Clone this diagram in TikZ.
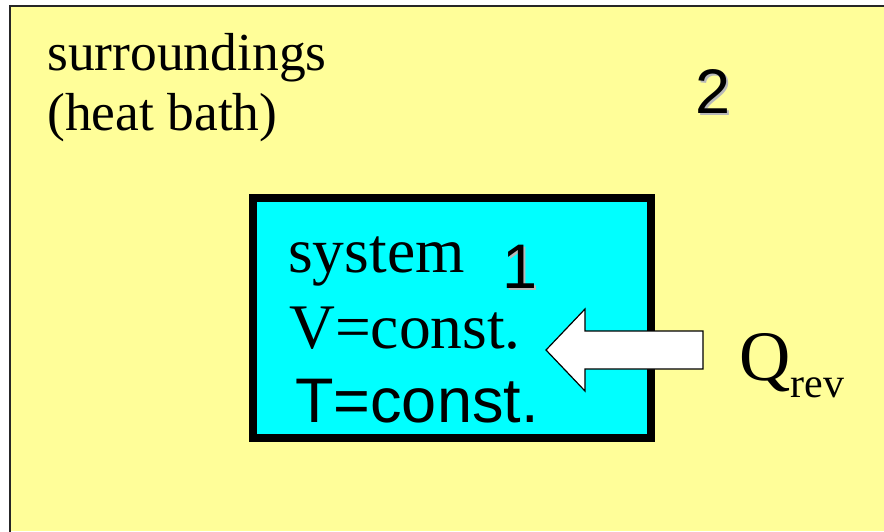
\documentclass[tikz,border=0pt]{standalone}
\usepackage{fontspec}
\setmainfont{Liberation Serif}
\newfontfamily\arialfont{Liberation Sans}
\definecolor{bathyellow}{HTML}{FFFE99}
\definecolor{syscyan}{HTML}{00FFFF}
\definecolor{shadowgray}{HTML}{B8B8B8}
\begin{document}
\begin{tikzpicture}[x=1pt,y=-1pt,
  serif53/.style={inner sep=0pt,anchor=base west,font=\fontsize{53.5}{60}\selectfont},
  serif62/.style={inner sep=0pt,anchor=base west,font=\fontsize{63.5}{70}\selectfont},
  sans62/.style={inner sep=0pt,anchor=base west,font=\arialfont\fontsize{63}{70}\selectfont},
  digitshadow/.style={sans62,text=shadowgray},
  digit/.style={sans62,text=black}]
\useasboundingbox (0,0) rectangle (884,531);
% surroundings (heat bath)
\fill[bathyellow] (10,6) rectangle (884,531);
\draw[line width=2pt,black!85] (9.5,540) -- (9.5,5.5) -- (890,5.5);
% system box
\draw[fill=syscyan,draw=black,line width=8pt] (252.5,198) rectangle (651,437.5);
% labels
\node[serif53] (surr) at (47,70) {surroundings};
\node[serif53] (bath) at (47,130) {(heat bath)};
\node[digitshadow] (twoS) at (697,115.5) {2};
\node[digit] (two) at (695,113) {2};
\node[serif62] (sys) at (288,272) {system};
\node[digitshadow] (oneS) at (504,290.5) {1};
\node[digit] (one) at (502,288) {1};
\node[serif62] (vc) at (289,348) {V=const.};
\node[sans62] (tc) at (295,422) {T=const.};
% heat arrow
\draw[fill=white,draw=black,line width=1.2pt,line join=miter]
  (703,331) -- (585,331) -- (585,309) -- (546,350) -- (585,391) -- (585,369) -- (703,369) -- cycle;
\node[inner sep=0pt,anchor=base west,font=\fontsize{71}{80}\selectfont] (Q) at (739,380) {Q};
\node[inner sep=0pt,anchor=base west,font=\fontsize{42}{48}\selectfont] (rev) at ([yshift=-17pt]Q.base east) {rev};
\end{tikzpicture}
\end{document}
